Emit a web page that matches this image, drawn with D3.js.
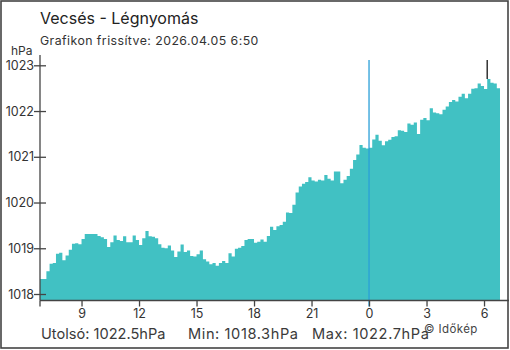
<!DOCTYPE html>
<meta charset="utf-8">
<style>
body { margin: 0; background: #fff; }
svg { display: block; font-family: 'Inter', 'Noto Sans', sans-serif; }
.title { font-size: 16px; fill: #222; }
.sub { font-size: 12.3px; fill: #333; letter-spacing: 0.45px; }
.unit { font-size: 12px; fill: #333; }
.axis text { font-size: 12.5px; fill: #333; font-family: 'Inter', sans-serif; }
.axis path, .axis line { stroke: #444; stroke-width: 1.3; }
.stats { font-size: 14.6px; fill: #3a3a3a; }
.credit { font-size: 11.5px; fill: #444; letter-spacing: 0.4px; }
</style>
<svg width="510" height="350"></svg>
<script src="https://d3js.org/d3.v7.min.js"></script>
<script>

var title = "Vecsés - Légnyomás",
    updated = "Grafikon frissítve: 2026.04.05 6:50",
    unit = "hPa";

// 10-minute readings from 2026.04.04 6:50 to 2026.04.05 6:50
var startTime = new Date(2026, 3, 4, 6, 50),
    stepMinutes = 10;

var pressure = [
  1018.33, 1018.33, 1018.50, 1018.66, 1018.68, 1018.88, 1018.90, 1018.74, 1018.84, 1018.97,
  1019.10, 1019.11, 1019.09, 1019.20, 1019.31, 1019.31, 1019.31, 1019.31, 1019.27, 1019.24,
  1019.20, 1019.03, 1019.13, 1019.28, 1019.18, 1019.16, 1019.26, 1019.13, 1019.13, 1019.28,
  1019.18, 1019.07, 1019.22, 1019.38, 1019.26, 1019.25, 1019.22, 1019.09, 1019.01, 1019.00,
  1019.06, 1018.95, 1018.81, 1018.93, 1019.08, 1018.92, 1018.95, 1018.83, 1018.82, 1018.87,
  1018.95, 1018.76, 1018.71, 1018.65, 1018.68, 1018.62, 1018.68, 1018.72, 1018.68, 1018.89,
  1018.82, 1018.99, 1019.01, 1019.05, 1019.18, 1019.20, 1019.20, 1019.12, 1019.14, 1019.19,
  1019.14, 1019.27, 1019.47, 1019.40, 1019.48, 1019.51, 1019.58, 1019.78, 1019.77, 1019.95,
  1020.22, 1020.35, 1020.41, 1020.45, 1020.55, 1020.48, 1020.46, 1020.50, 1020.48, 1020.60,
  1020.52, 1020.48, 1020.68, 1020.68, 1020.42, 1020.50, 1020.58, 1020.74, 1020.93, 1021.05,
  1021.26, 1021.20, 1021.18, 1021.20, 1021.38, 1021.48, 1021.35, 1021.25, 1021.34, 1021.37,
  1021.43, 1021.45, 1021.58, 1021.57, 1021.54, 1021.73, 1021.70, 1021.75, 1021.50, 1021.81,
  1021.85, 1021.80, 1022.06, 1021.97, 1021.95, 1021.93, 1022.03, 1022.10, 1022.20, 1022.24,
  1022.21, 1022.31, 1022.38, 1022.28, 1022.38, 1022.49, 1022.50, 1022.60, 1022.55, 1022.48,
  1022.70, 1022.62, 1022.60, 1022.50
];

var yTicks = [1018, 1019, 1020, 1021, 1022, 1023];

var svg = d3.select("svg");

var data = pressure.map(function(v, i) {
  return {t: d3.timeMinute.offset(startTime, i * stepMinutes), v: v};
});
var endTime = d3.timeMinute.offset(startTime, pressure.length * stepMinutes);

var x = d3.scaleTime()
    .domain([startTime, endTime])
    .range([40, 500]);

var y = d3.scaleLinear()
    .domain([1018, 1023])
    .range([294, 65.3]);

var bottom = 300.5;

// frame
svg.append("rect")
    .attr("x", 1).attr("y", 1).attr("width", 507).attr("height", 347)
    .attr("fill", "none").attr("stroke", "#444").attr("stroke-width", 1.6);

var area = d3.area()
    .curve(d3.curveStepAfter)
    .x(function(d) { return x(d.t); })
    .y0(bottom)
    .y1(function(d) { return y(d.v); });

svg.append("path")
    .datum(data.concat([{t: endTime, v: pressure[pressure.length - 1]}]))
    .attr("fill", "#41c1c3")
    .attr("d", area);

// midnight marker
var midnight = new Date(2026, 3, 5, 0, 0);
svg.append("line")
    .attr("x1", x(midnight)).attr("x2", x(midnight))
    .attr("y1", 60).attr("y2", bottom + 6)
    .attr("stroke", "#2a9fd8").attr("stroke-width", 1.3);

// max marker
var maxD = data.reduce(function(a, b) { return b.v > a.v ? b : a; });
svg.append("line")
    .attr("x1", x(maxD.t)).attr("x2", x(maxD.t))
    .attr("y1", 60).attr("y2", y(maxD.v))
    .attr("stroke", "#333").attr("stroke-width", 1.5);

// axes
var gx = svg.append("g")
    .attr("class", "axis")
    .attr("transform", "translate(0," + bottom + ")")
    .call(d3.axisBottom(x)
      .ticks(d3.timeHour.every(3))
      .tickFormat(d3.timeFormat("%-H"))
      .tickSize(6)
      .tickSizeOuter(0));
gx.select(".domain").attr("d", "M40,0H509");
gx.selectAll(".tick").filter(function(d) { return d.getHours() === 0; })
    .select("line").attr("stroke", "#2a9fd8");
gx.append("line").attr("x1", 40).attr("x2", 40).attr("y1", 0).attr("y2", 6)
    .attr("stroke", "#444").attr("stroke-width", 1.3);

var gy = svg.append("g")
    .attr("class", "axis")
    .attr("transform", "translate(40,0)")
    .call(d3.axisLeft(y)
      .tickValues(yTicks)
      .tickFormat(d3.format("d"))
      .tickSize(6)
      .tickSizeOuter(0));
gy.select(".domain").attr("d", "M0,55V" + bottom);
gy.selectAll(".tick line").attr("x2", 6).attr("x1", -6);
gy.selectAll(".tick text").attr("x", -6);

// texts
svg.append("text").attr("class", "title").attr("x", 40).attr("y", 24).text(title);
svg.append("text").attr("class", "sub").attr("x", 40).attr("y", 45).text(updated);
svg.append("text").attr("class", "unit").attr("x", 11).attr("y", 55).text(unit);

var last = pressure[pressure.length - 1],
    minV = d3.min(pressure),
    maxV = d3.max(pressure),
    f1 = d3.format(".1f");

svg.append("text").attr("class", "stats").attr("x", 41).attr("y", 339)
    .text("Utolsó: " + f1(last) + "hPa");
svg.append("text").attr("class", "stats").attr("x", 188).attr("y", 339)
    .attr("textLength", 110).attr("lengthAdjust", "spacing")
    .text("Min: " + f1(minV) + "hPa");
svg.append("text").attr("class", "stats").attr("x", 312).attr("y", 339)
    .attr("textLength", 117).attr("lengthAdjust", "spacing")
    .text("Max: " + f1(maxV) + "hPa");
svg.append("text").attr("class", "credit").attr("x", 424).attr("y", 333)
    .text("© Időkép");

</script>
